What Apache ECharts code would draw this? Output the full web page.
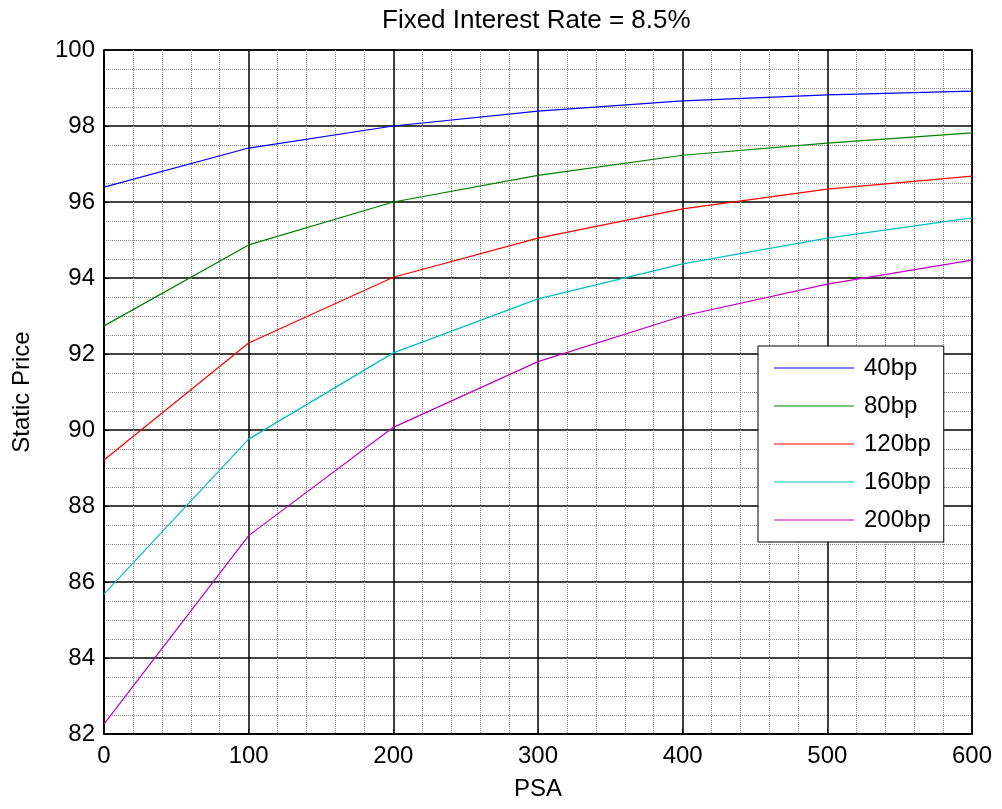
<!DOCTYPE html>
<html>
<head>
<meta charset="utf-8">
<script src="https://cdn.jsdelivr.net/npm/echarts@6/dist/echarts.min.js"></script>
<style>
    html, body { margin: 0; padding: 0; background: #fff; }
    #chart { width: 1002px; height: 809px; }
</style>
</head>
<body>
<div id="chart"></div>
<script>
// PSA values along the x axis
var psa = [0, 100, 200, 300, 400, 500, 600];

// static price per spread
var bp40  = [96.39, 97.42, 98.00, 98.39, 98.66, 98.82, 98.92];
var bp80  = [92.74, 94.87, 96.00, 96.70, 97.23, 97.55, 97.82];
var bp120 = [89.21, 92.29, 94.02, 95.05, 95.82, 96.34, 96.68];
var bp160 = [85.68, 89.76, 92.03, 93.45, 94.37, 95.05, 95.58];
var bp200 = [82.26, 87.22, 90.07, 91.80, 93.00, 93.84, 94.47];

var names = ['40bp', '80bp', '120bp', '160bp', '200bp'];
var colors = ['#0000ff', '#008000', '#ff0000', '#00bfbf', '#bf00bf'];
var values = [bp40, bp80, bp120, bp160, bp200];

var chart = echarts.init(document.getElementById('chart'));

function pairs(ys) {
    var out = [];
    for (var i = 0; i < psa.length; i++) {
        out.push([psa[i], ys[i]]);
    }
    return out;
}

var series = [];
for (var k = 0; k < names.length; k++) {
    series.push({
        name: names[k],
        type: 'line',
        data: pairs(values[k]),
        showSymbol: false,
        symbol: 'none',
        lineStyle: { width: 1.2, color: colors[k] },
        itemStyle: { color: colors[k] },
        animation: false
    });
}

var font = 'Liberation Sans, Arial, sans-serif';

chart.setOption({
    backgroundColor: '#fff',
    title: {
        text: 'Fixed Interest Rate = 8.5%',
        left: 382,
        top: 8,
        padding: 0,
        textStyle: { fontSize: 26, fontWeight: 'normal', color: '#000', fontFamily: font }
    },
    grid: {
        left: 104, right: 30, top: 50, bottom: 75,
        show: true,
        borderColor: '#000',
        borderWidth: 1.5
    },
    legend: {
        data: names,
        orient: 'vertical',
        left: 758,
        top: 346,
        icon: 'rect',
        itemWidth: 80,
        itemHeight: 1.2,
        itemGap: 14,
        padding: [10, 13, 10, 16],
        backgroundColor: '#fff',
        borderColor: '#000',
        borderWidth: 1,
        borderRadius: 0,
        textStyle: { fontSize: 24, lineHeight: 24, color: '#000', fontFamily: font, padding: [0, 0, 0, 5] }
    },
    xAxis: {
        type: 'value',
        min: 0, max: 600, interval: 100,
        name: 'PSA',
        nameLocation: 'middle',
        nameGap: 43,
        nameTextStyle: { fontSize: 24, color: '#000', fontFamily: font },
        axisLine: { lineStyle: { color: '#000', width: 1.5 } },
        axisTick: { inside: true, length: 5, lineStyle: { color: '#000' } },
        axisLabel: { fontSize: 24, color: '#000', margin: 10, fontFamily: font },
        splitLine: { show: true, lineStyle: { color: '#000', width: 1.5 } },
        minorTick: { show: false, splitNumber: 5 },
        minorSplitLine: { show: true, lineStyle: { color: '#8c8c8c', type: 'dotted', width: 1 } }
    },
    yAxis: {
        type: 'value',
        min: 82, max: 100, interval: 2,
        name: 'Static Price',
        nameLocation: 'middle',
        nameGap: 70,
        nameTextStyle: { fontSize: 24, color: '#000', fontFamily: font },
        axisLine: { show: true, lineStyle: { color: '#000', width: 1.5 } },
        axisTick: { show: true, inside: true, length: 5, lineStyle: { color: '#000' } },
        axisLabel: { fontSize: 24, color: '#000', margin: 9, fontFamily: font },
        splitLine: { show: true, lineStyle: { color: '#000', width: 1.5 } },
        minorTick: { show: false, splitNumber: 4 },
        minorSplitLine: { show: true, lineStyle: { color: '#8c8c8c', type: 'dotted', width: 1 } }
    },
    series: series
});
</script>
</body>
</html>
